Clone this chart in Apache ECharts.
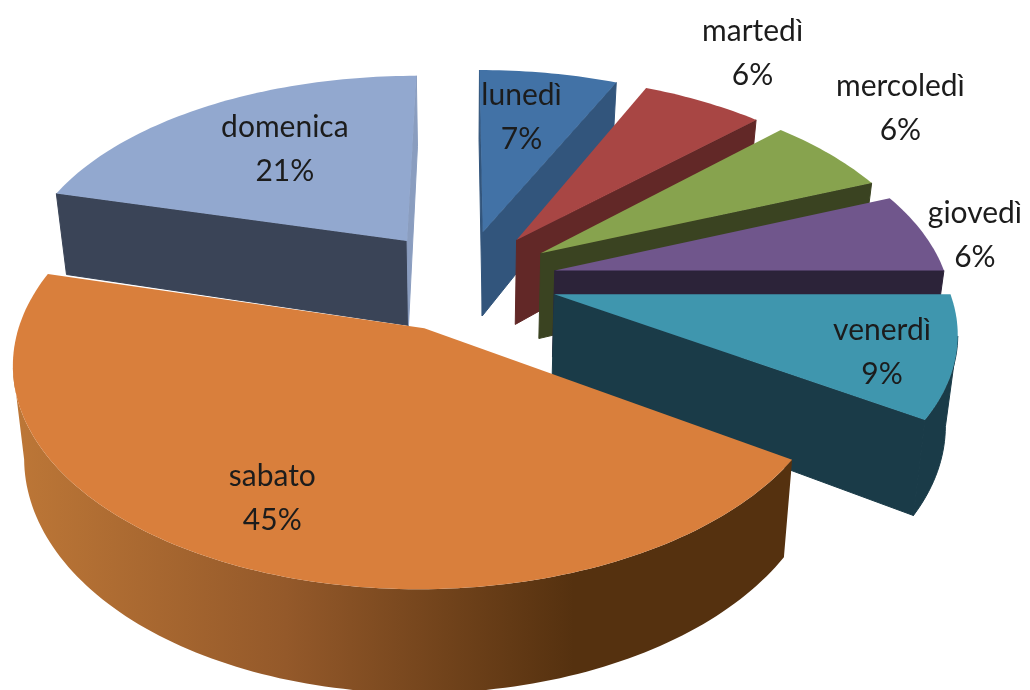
<!DOCTYPE html>
<html>
<head>
<meta charset="utf-8">
<style>
html, body { margin: 0; padding: 0; background: #fff; }
#chart { width: 1030px; height: 690px; }
</style>
<script src="https://cdn.jsdelivr.net/npm/echarts@6/dist/echarts.min.js"></script>
</head>
<body>
<div id="chart"></div>
<script>
var days = ['lunedì', 'martedì', 'mercoledì', 'giovedì', 'venerdì', 'sabato', 'domenica'];
var percents = [7, 6, 6, 6, 9, 45, 21];

var topColors = ['#4272a6', '#a84644', '#87a34e', '#70568c', '#3f96ae', '#d97f3c', '#92a8cf'];
var cutColors = ['#32557c', '#622827', '#3a4321', '#2c2339', '#1a3b48', '#55310f', '#3a4457'];
var rimColors = ['#32557c', '#622827', '#3a4321', '#2c2339', '#1a3b48', '#55310f', '#3a4457'];
// how far along the slice's middle the label sits (1 = rim), then a small shift
var labelReach = [0.65, 1.34, 1.3, 1.15, 0.83, 0.82, 0.62];
var labelShiftX = [-7, 0, -5, -1, -3, 0, 6];
var labelShiftY = [-4, -11, -20, 8, 6, -20, -2];

// pie geometry, as seen from the camera
var centerX = 463, centerY = 280;
var radiusX = 392, radiusY = 212;
var perspective = 0.16;
var explode = 0.24;
var depth = 87;
var shrink = 0.025;

var total = percents.reduce(function (a, b) { return a + b; }, 0);
var startAngles = [];
percents.reduce(function (sum, v, i) {
    startAngles[i] = sum / total * Math.PI * 2;
    return sum + v;
}, 0);

function project(wx, wy, low) {
    var s = 1 + perspective * wy;
    var x = centerX + radiusX * wx * s;
    var y = centerY + radiusY * wy * s;
    if (low) {
        x = centerX + (x - centerX) * (1 - shrink);
        y += depth * s;
    }
    return [x, y];
}

function wedgePoint(mid, a, r, low) {
    return project(
        explode * Math.sin(mid) + r * Math.sin(a),
        -explode * Math.cos(mid) - r * Math.cos(a),
        low
    );
}

function renderSlice(params, api) {
    var i = params.dataIndex;
    var a0 = startAngles[i];
    var a1 = a0 + api.value(0) / total * Math.PI * 2;
    var mid = (a0 + a1) / 2;
    // painter's order: last slice (far left) first, then round clockwise
    var z = 200 + ((i + 1) % percents.length) * 10;
    var steps = Math.max(6, Math.round(api.value(0) * 3));
    var children = [];

    var rimTop = [], rimLow = [];
    for (var k = 0; k <= steps; k++) {
        var a = a0 + (a1 - a0) * k / steps;
        rimTop.push(wedgePoint(mid, a, 1, false));
        rimLow.push(wedgePoint(mid, a, 1, true));
    }
    var apexTop = wedgePoint(mid, 0, 0, false);
    var apexLow = wedgePoint(mid, 0, 0, true);

    function wall(p, q, pl, ql, color) {
        if (q[0] >= p[0]) return; // back facing
        children.push({
            type: 'polygon', z2: z,
            shape: { points: [p, q, ql, pl] },
            style: { fill: color, stroke: color, lineWidth: 1 }
        });
    }

    // flat cuts of the wedge
    wall(apexTop, rimTop[0], apexLow, rimLow[0], cutColors[i]);
    wall(rimTop[steps], apexTop, rimLow[steps], apexLow, i === 6 ? '#8a9dbf' : cutColors[i]);

    // curved rim, only the run that faces the camera
    var runTop = [], runLow = [];
    for (k = 0; k < steps; k++) {
        if (rimTop[k + 1][0] < rimTop[k][0]) {
            if (!runTop.length) { runTop.push(rimTop[k]); runLow.push(rimLow[k]); }
            runTop.push(rimTop[k + 1]);
            runLow.push(rimLow[k + 1]);
        }
    }
    if (runTop.length) {
        var rimFill = rimColors[i];
        var rimLine = rimColors[i];
        if (i === 5) {
            rimLine = null;
            rimFill = new echarts.graphic.LinearGradient(0, 0, 1, 0, [
                { offset: 0, color: '#bd7737' },
                { offset: 0.35, color: '#94592a' },
                { offset: 0.72, color: '#55310f' },
                { offset: 1, color: '#55310f' }
            ]);
        }
        children.push({
            type: 'polygon', z2: z,
            shape: { points: runTop.concat(runLow.slice().reverse()) },
            style: { fill: rimFill, stroke: rimLine, lineWidth: 1 }
        });
    }

    // top face
    children.push({
        type: 'polygon', z2: z + 1,
        shape: { points: [apexTop].concat(rimTop) },
        style: { fill: topColors[i] }
    });

    var at = wedgePoint(mid, mid, labelReach[i], false);
    children.push({
        type: 'text', z2: 900,
        style: {
            x: at[0] + labelShiftX[i], y: at[1] + labelShiftY[i],
            text: days[i] + '\n' + api.value(0) + '%',
            fill: '#1c1c1c',
            font: '30px Lato',
            lineHeight: 44,
            align: 'center',
            verticalAlign: 'middle'
        }
    });

    return { type: 'group', children: children };
}

var myChart = echarts.init(document.getElementById('chart'));
var option = {
    animation: false,
    backgroundColor: '#fff',
    series: [{
        type: 'custom',
        coordinateSystem: 'none',
        renderItem: renderSlice,
        data: percents.map(function (v, i) { return { name: days[i], value: [v] }; })
    }]
};
myChart.setOption(option);
</script>
</body>
</html>
